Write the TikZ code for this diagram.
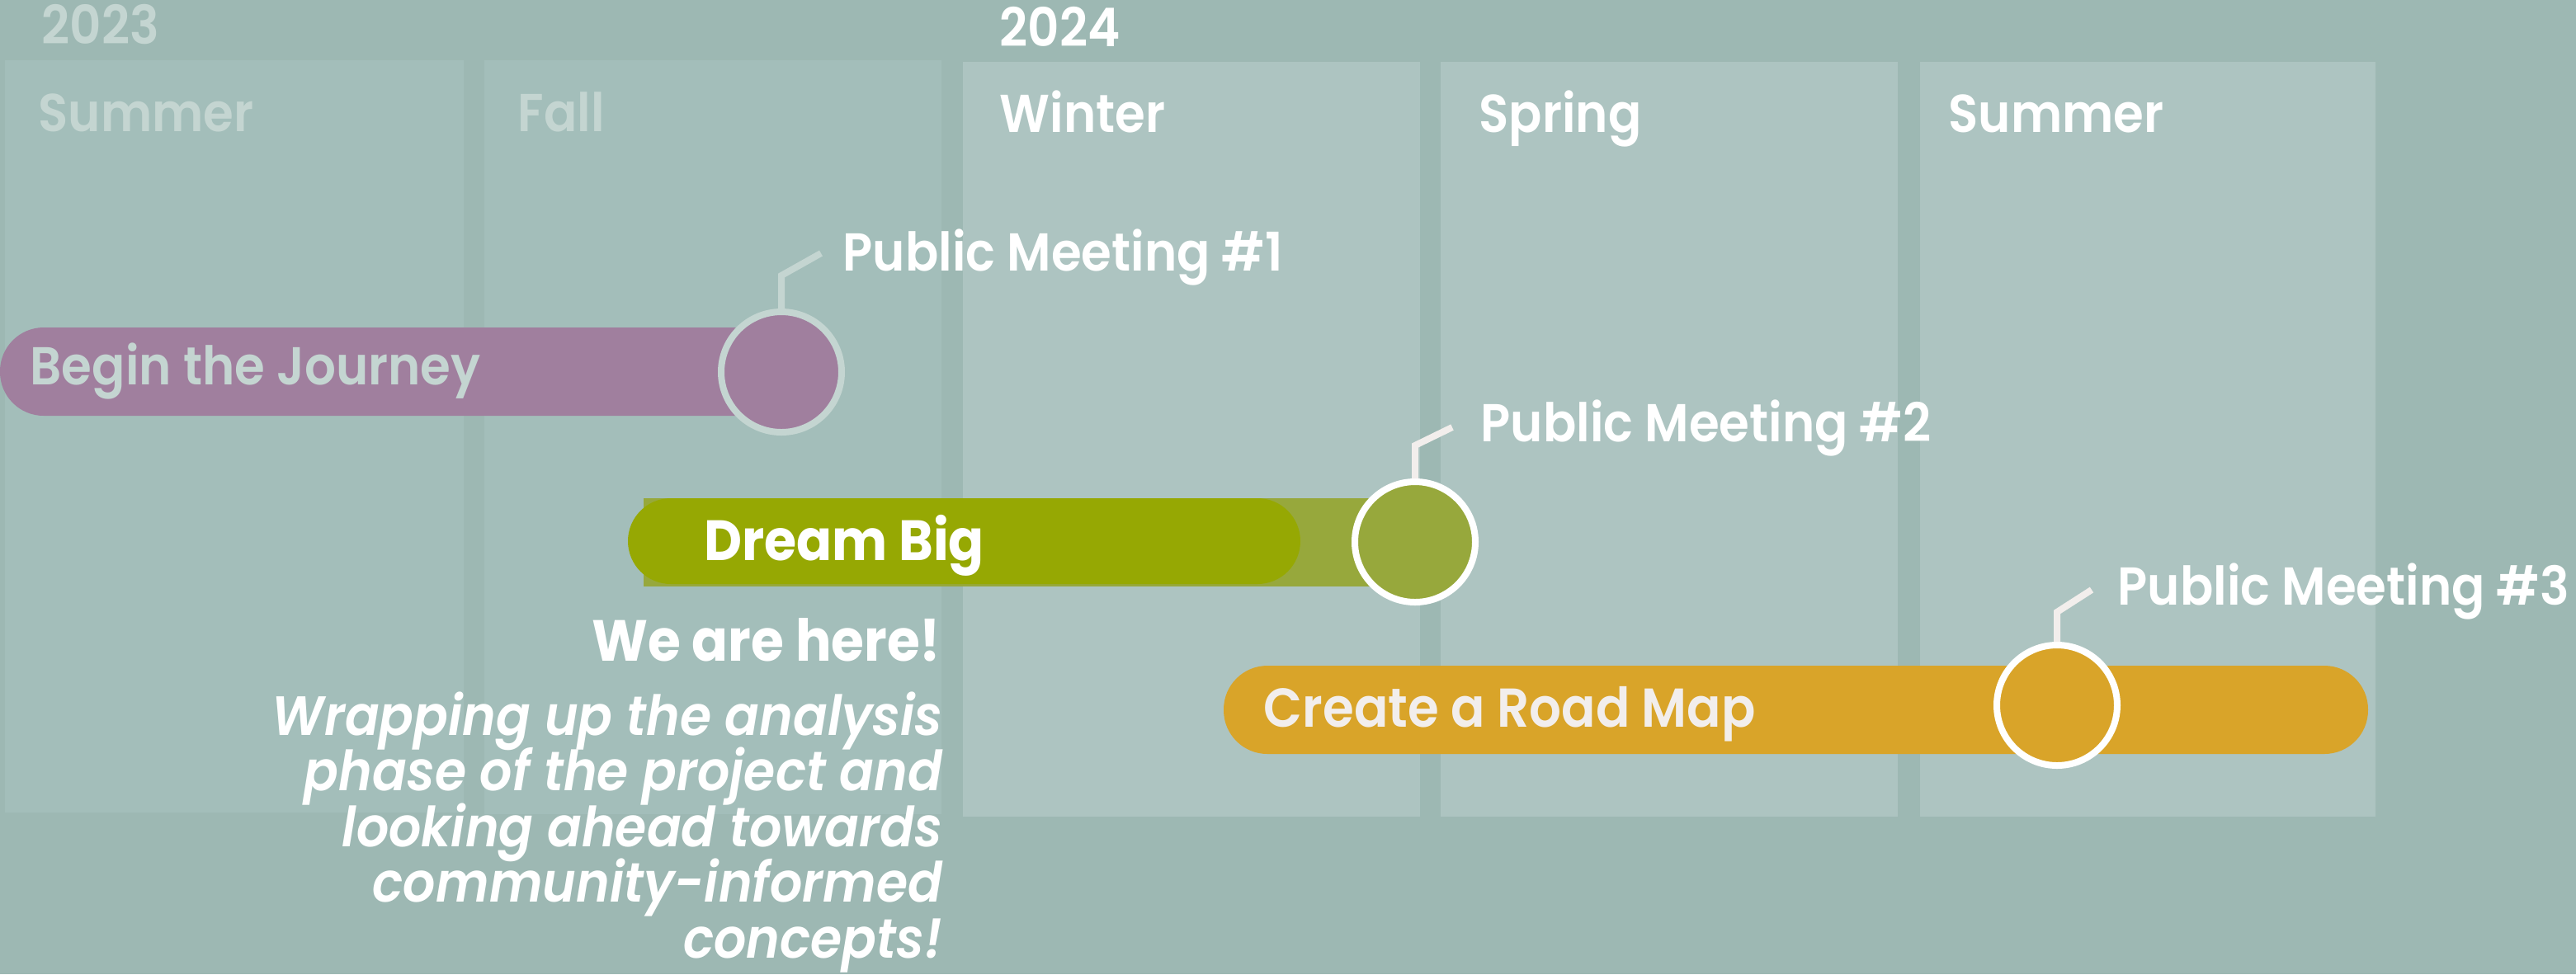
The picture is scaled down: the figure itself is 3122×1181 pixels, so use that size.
\documentclass[tikz,border=0pt]{standalone}
\usepackage{fontspec}
\setmainfont{Poppins}[FakeStretch=0.92, BoldFont={* SemiBold}, BoldItalicFont={* SemiBold Italic}]
\newfontfamily\heavyfont{Poppins}[FakeStretch=0.92]
\newcommand\tightlines{\setlength{\lineskiplimit}{-30pt}\setlength{\lineskip}{0pt}}
\usetikzlibrary{positioning}

\definecolor{bgteal}{HTML}{9DB8B3}
\definecolor{colold}{HTML}{A3BEBA}
\definecolor{colnew}{HTML}{ADC4C1}
\definecolor{pale}{HTML}{C4D5D1}
\definecolor{offwhite}{HTML}{F2EEEC}
\definecolor{journey}{HTML}{A07F9E}
\definecolor{dream}{HTML}{96A803}
\definecolor{dreamback}{HTML}{97A83C}
\definecolor{roadmap}{HTML}{D9A429}

\begin{document}
\begin{tikzpicture}[x=0.1mm, y=-0.1mm,
        lbl/.style={anchor=base west, inner sep=0pt, font=\fontsize{18.4pt}{22pt}\selectfont\bfseries},
        meetdot/.style={circle, minimum size=14.6mm, line width=0.8mm, inner sep=0pt},
        leader/.style={line width=0.8mm}]
    \fill[bgteal] (0,0) rectangle (3122,1181);
    \useasboundingbox (0,0) rectangle (3122,1181);

    % season columns
    \fill[colold] (6,73) rectangle (562,985);
    \fill[colold] (587,73) rectangle (1141,987);
    \fill[colnew] (1167,75) rectangle (1721,990);
    \fill[colnew] (1746,75) rectangle (2300,990);
    \fill[colnew] (2327,75) rectangle (2879,990);

    \node[lbl, pale] (y2023) at (50,53) {2023};
    \node[lbl, white] (y2024) at (1211,56) {2024};
    \node[lbl, pale] (summer23) at (46,159) {Summer};
    \node[lbl, pale] (fall23) at (627,159) {Fall};
    \node[lbl, white] (winter) at (1211,160) {Winter};
    \node[lbl, white] (spring) at (1792,160) {Spring};
    \node[lbl, white] (summer24) at (2361,160) {Summer};

    % phase bars
    \fill[journey, rounded corners=5.3mm] (0,397) rectangle (960,504);
    \fill[dreamback] (780,604) rectangle (1715,711);
    \fill[dream, rounded corners=5.2mm] (761,604) rectangle (1576,708);
    \fill[roadmap, rounded corners=5.3mm] (1483,807) rectangle (2870,914);

    \node[lbl, pale] (journeytxt) at (36,466) {Begin the Journey};
    \node[lbl, white, font=\fontsize{19.6pt}{23pt}\selectfont\heavyfont\bfseries] (dreamtxt) at (853,679) {Dream Big};
    \node[lbl, offwhite, font=\fontsize{18.9pt}{22pt}\selectfont\bfseries] (roadtxt) at (1531,881) {Create a Road Map};

    % public meetings
    \node[meetdot, fill=journey, draw=pale] (pm1dot) at (947,451) {};
    \node[meetdot, fill=dreamback, draw=white] (pm2dot) at (1715,657) {};
    \node[meetdot, fill=roadmap, draw=white] (pm3dot) at (2493,855) {};

    \coordinate (tip1) at (995,307);
    \coordinate (tip2) at (1760,518);
    \coordinate (tip3) at (2535,715);
    \draw[leader, pale] (pm1dot.north) -- ++(0,-40) -- (tip1);
    \draw[leader, offwhite] (pm2dot.north) -- ++(0,-40) -- (tip2);
    \draw[leader, offwhite] (pm3dot.north) -- ++(0,-36) -- (tip3);

    \node[lbl, white] (pm1) at (1021,328) {Public Meeting \#1};
    \node[lbl, white] (pm2) at (1794,535) {Public Meeting \#2};
    \node[lbl, white] (pm3) at (2566,733) {Public Meeting \#3};

    % status note
    \node[lbl, white, anchor=base east, font=\fontsize{20pt}{24pt}\selectfont\heavyfont\bfseries] (here) at (1141,801) {We are here!};
    \node[white, anchor=base east, inner sep=0pt, align=right,
        font=\fontsize{19.1pt}{19.2pt}\selectfont\tightlines\bfseries\itshape] (note) at (1143,1161)
        {Wrapping up the analysis\\phase of the project and\\looking ahead towards\\community-informed\\concepts!};
\end{tikzpicture}
\end{document}
